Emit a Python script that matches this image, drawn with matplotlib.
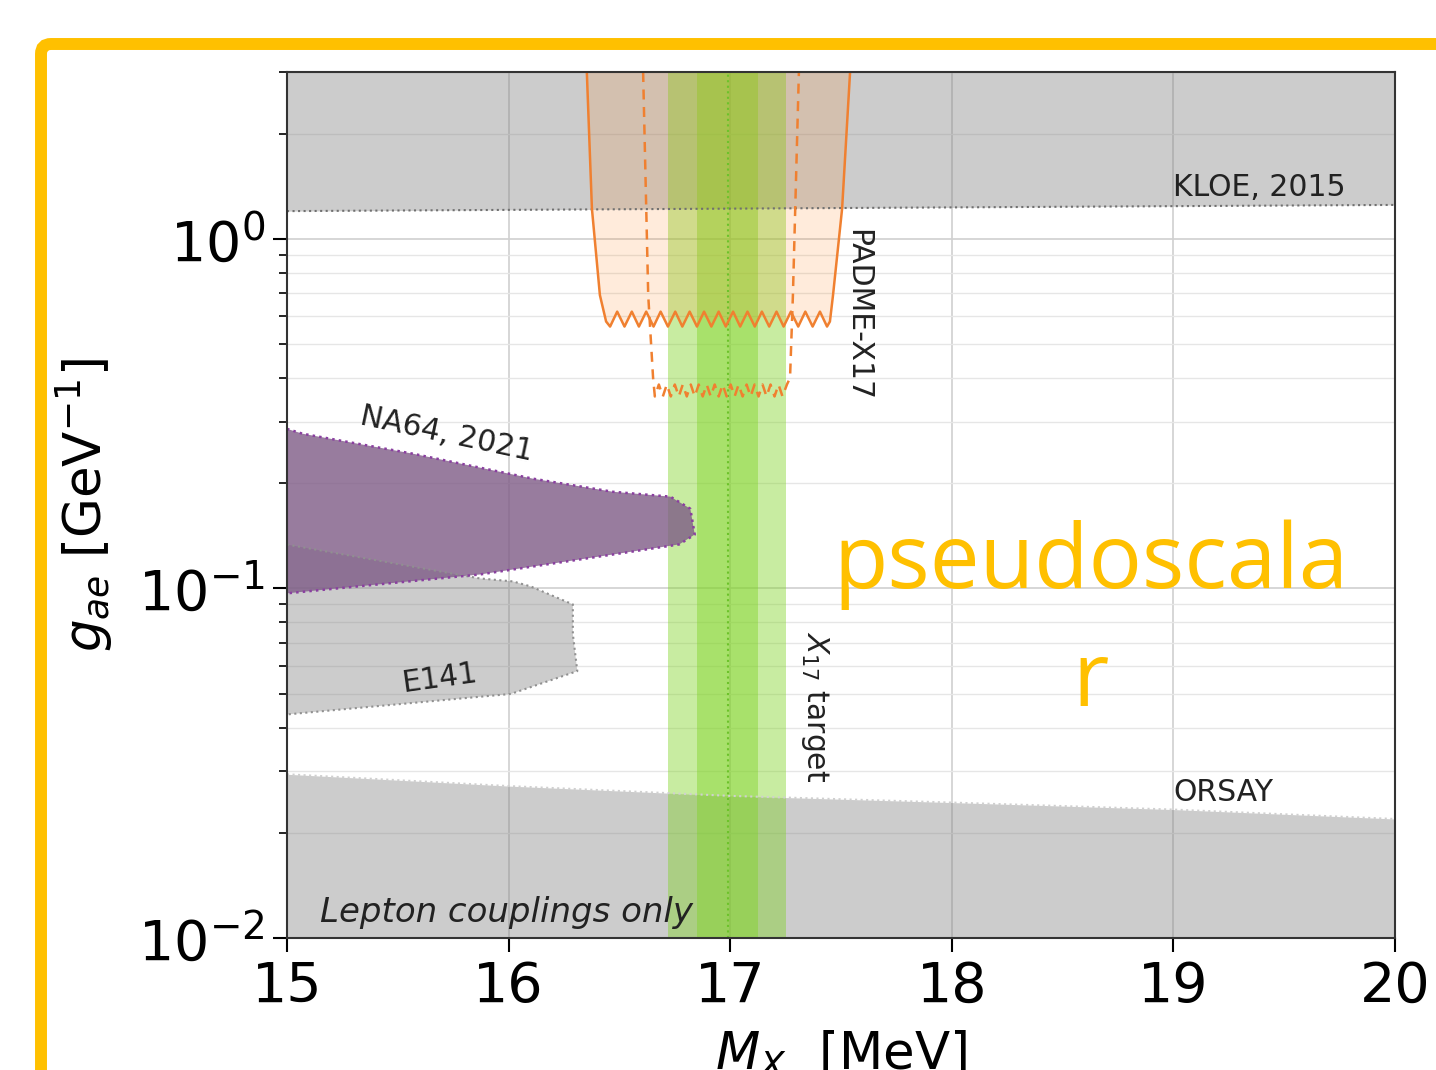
import matplotlib
matplotlib.use("Agg")
import matplotlib.pyplot as plt
from matplotlib.patches import FancyBboxPatch
from matplotlib.transforms import IdentityTransform
from matplotlib.ticker import LogLocator, NullFormatter

# ---- data ----
kloe_x = [15, 20]
kloe_y = [1.20, 1.25]

orsay_x = [15, 16, 17, 18, 19, 20]
orsay_y = [0.0294, 0.0272, 0.0255, 0.0244, 0.0233, 0.0219]

e141_x = [15, 15.87, 16.02, 16.10, 16.29, 16.29, 16.31, 16.01, 15]
e141_y = [0.1335, 0.1068, 0.1047, 0.1013, 0.090, 0.074, 0.058, 0.0499, 0.0436]

na64_x = [15, 15.07, 15.57, 16.11, 16.47, 16.73, 16.82, 16.84, 16.77, 16.47, 15.87, 15]
na64_y = [0.286, 0.277, 0.2427, 0.206, 0.189, 0.183, 0.169, 0.1426, 0.1336, 0.125, 0.1096, 0.0968]

x17_center = 16.99
x17_wide = (16.72, 17.25)
x17_narrow = (16.85, 17.125)

# PADME solid: left wall, wavy floor, right wall
padme_left_x = [16.353, 16.376, 16.412, 16.44]
padme_left_y = [3.0, 1.22, 0.69, 0.58]
padme_floor_x = [16.458, 16.49, 16.523, 16.556, 16.588, 16.621, 16.654, 16.686,
                 16.719, 16.752, 16.784, 16.817, 16.85, 16.882, 16.915, 16.948,
                 16.98, 17.013, 17.045, 17.078, 17.111, 17.143, 17.176, 17.209,
                 17.241, 17.274, 17.307, 17.339, 17.372, 17.405, 17.437]
padme_floor_y = [0.561, 0.619] * 15 + [0.561]
padme_right_x = [17.45, 17.464, 17.505, 17.541]
padme_right_y = [0.58, 0.69, 1.22, 3.0]

# PADME dashed
padd_left_x = [16.607, 16.63, 16.652]
padd_left_y = [3.0, 0.69, 0.40]
padd_floor_x = [16.66, 16.678, 16.696, 16.714, 16.732, 16.75, 16.768, 16.786,
                16.804, 16.822, 16.84, 16.858, 16.876, 16.894, 16.912, 16.93,
                16.948, 16.966, 16.984, 17.002, 17.02, 17.038, 17.056, 17.074,
                17.092, 17.11, 17.128, 17.146, 17.164, 17.182, 17.2, 17.218,
                17.236, 17.256]
padd_floor_y = [0.354, 0.383] * 17
padd_right_x = [17.27, 17.283, 17.31]
padd_right_y = [0.40, 0.69, 3.0]

xticks = [15, 16, 17, 18, 19, 20]

fig = plt.figure(figsize=(14.36, 10.70), dpi=100)
ax = fig.add_axes([287 / 1436, 1 - 938 / 1070, 1108 / 1436, 866 / 1070])
ax.set_yscale("log")
ax.set_xlim(15, 20)
ax.set_ylim(1e-2, 3.0)
ax.set_axisbelow(True)

gray = "gray"
ax.fill_between(kloe_x, kloe_y, 3.0, color=gray, alpha=0.4, lw=0)
ax.plot(kloe_x, kloe_y, ":", color="#707070", lw=1.5)
ax.fill_between(orsay_x, 1e-2, orsay_y, color=gray, alpha=0.4, lw=0)
ax.plot(orsay_x, orsay_y, ":", color="#d0d0d0", lw=1.5)
ax.fill(e141_x, e141_y, color=gray, alpha=0.4, lw=0)
ax.plot(e141_x, e141_y, ":", color="#909090", lw=1.5)

# X17 target bands
ax.axvspan(*x17_wide, color="#7ED321", alpha=0.42, lw=0)
ax.axvspan(*x17_narrow, color="#7ED321", alpha=0.42, lw=0)
ax.axvline(x17_center, color="#6cc22a", ls=":", lw=1.5)

# NA64
ax.fill(na64_x, na64_y, color="#7e5b86", alpha=0.8, lw=0)
ax.plot(na64_x, na64_y, ":", color="#8a3fa0", lw=1.8)

# PADME
px = padme_left_x + padme_floor_x + padme_right_x
py = padme_left_y + padme_floor_y + padme_right_y
ax.fill_between(px, py, 3.0, color="tab:orange", alpha=0.15, lw=0)
ax.plot(px, py, color="#f08030", lw=1.8)
dx = padd_left_x + padd_floor_x + padd_right_x
dy = padd_left_y + padd_floor_y + padd_right_y
ax.plot(dx, dy, "--", color="#f08030", lw=1.8, dashes=(4, 3))

# labels
lab = dict(fontsize=21.5, color="#222222")
ax.text(19.0, 1.40, "KLOE, 2015", ha="left", va="center", **lab)
ax.text(19.0, 0.026, "ORSAY", ha="left", va="center", **lab)
ax.text(15.72, 0.277, "NA64, 2021", ha="center", va="center", rotation=-12, **lab)
ax.text(15.69, 0.0553, "E141", ha="center", va="center", rotation=8, **lab)
ax.text(17.577, 0.607, "PADME-X17", ha="center", va="center", rotation=-90, **lab)
ax.text(17.383, 0.046, "$X_{17}$ target", ha="center", va="center", rotation=-90, **lab)
ax.text(15.149, 0.0111, "Lepton couplings only", ha="left", va="baseline",
        fontsize=24.5, style="italic", color="#222222")

# axes styling
ax.set_xticks(xticks)
ax.yaxis.set_major_locator(LogLocator(base=10, numticks=10))
ax.yaxis.set_minor_locator(LogLocator(base=10, subs=range(2, 10), numticks=20))
ax.yaxis.set_minor_formatter(NullFormatter())
ax.tick_params(axis="both", which="major", labelsize=40, length=10, width=1.5, pad=6)
ax.tick_params(axis="y", which="minor", length=6, width=1.2)
ax.grid(True, which="major", color="#d0d0d0", lw=1.2)
ax.grid(True, which="minor", axis="y", color="#e6e6e6", lw=1.0)
for s in ax.spines.values():
    s.set_color("#333333")
    s.set_linewidth(1.5)

ax.set_xlabel("$M_X$  [MeV]", fontsize=37)
ax.xaxis.set_label_coords(0.5, -0.105)
ax.xaxis.label.set_va("top")
ax.set_ylabel("$g_{ae}$ [GeV$^{-1}$]", fontsize=37)
ax.yaxis.set_label_coords(-0.155, 0.5)

# overlay text
fig.text(1091 / 1436, 1 - 588 / 1070, "pseudoscala", ha="center", va="baseline",
         fontsize=64, color="#FFC000", family="Open Sans")
fig.text(1091 / 1436, 1 - 706 / 1070, "r", ha="center", va="baseline",
         fontsize=64, color="#FFC000", family="Open Sans")

# orange frame
frame = FancyBboxPatch((41, -60), 1500, 1070 - 44 + 60,
                       boxstyle="round,pad=0,rounding_size=10",
                       transform=IdentityTransform(), fill=False,
                       edgecolor="#FFC000", lw=8.6)
fig.patches.append(frame)

fig.savefig("out.png", dpi=100)
